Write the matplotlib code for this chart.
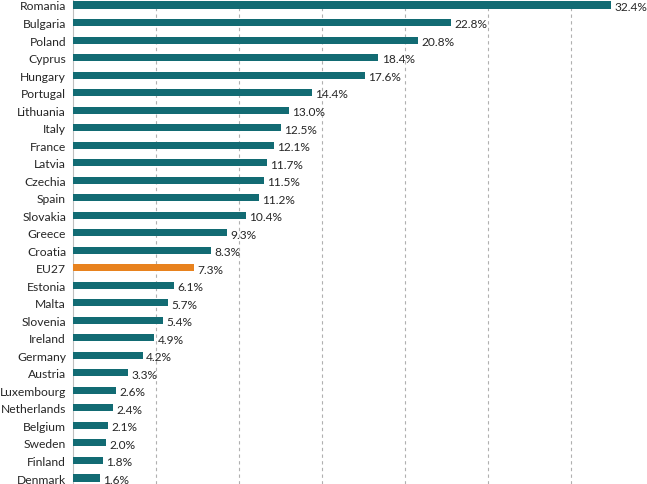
import numpy as np
import matplotlib.pyplot as plt

# Data (share in %)
countries = ['Romania', 'Bulgaria', 'Poland', 'Cyprus', 'Hungary', 'Portugal',
             'Lithuania', 'Italy', 'France', 'Latvia', 'Czechia', 'Spain',
             'Slovakia', 'Greece', 'Croatia', 'EU27', 'Estonia', 'Malta',
             'Slovenia', 'Ireland', 'Germany', 'Austria', 'Luxembourg',
             'Netherlands', 'Belgium', 'Sweden', 'Finland', 'Denmark']
values = [32.4, 22.8, 20.8, 18.4, 17.6, 14.4, 13.0, 12.5, 12.1, 11.7, 11.5,
          11.2, 10.4, 9.3, 8.3, 7.3, 6.1, 5.7, 5.4, 4.9, 4.2, 3.3, 2.6, 2.4,
          2.1, 2.0, 1.8, 1.6]

teal = '#126b73'
orange = '#e8821e'
colors = [orange if c == 'EU27' else teal for c in countries]

fig = plt.figure(figsize=(6.47, 4.85), dpi=100)
left = 73 / 647
ax = fig.add_axes([left, 0, 1 - left, 1])

y = np.arange(len(countries))
ax.barh(y, values, height=0.4, color=colors, zorder=3)

for yi, v in zip(y, values):
    ax.text(v + 0.2, yi + 0.08, f'{v:.1f}%', va='center', ha='left',
            fontsize=8.6, color='#262626', family='Lato')

ax.set_yticks(y)
ax.set_yticklabels(countries, fontsize=8.7, color='#262626', family='Lato')
ax.tick_params(axis='y', length=0, pad=5)
ax.set_xticks([5, 10, 15, 20, 25, 30])
ax.tick_params(axis='x', length=0, labelbottom=False)

# row centres: first at 6 px, spacing 17.52 px
step = 17.52
ax.set_ylim(27 + (485 - 479) / step, -6 / step)
ax.set_xlim(0, (647 - 73) / 16.6)

ax.grid(axis='x', linestyle=(0, (3, 3)), color='#b0b0b0', linewidth=0.8, zorder=0)
for s in ['top', 'right', 'bottom']:
    ax.spines[s].set_visible(False)
ax.spines['left'].set_color('#bfbfbf')
ax.spines['left'].set_linewidth(0.8)

fig.savefig('out.png', dpi=100)
